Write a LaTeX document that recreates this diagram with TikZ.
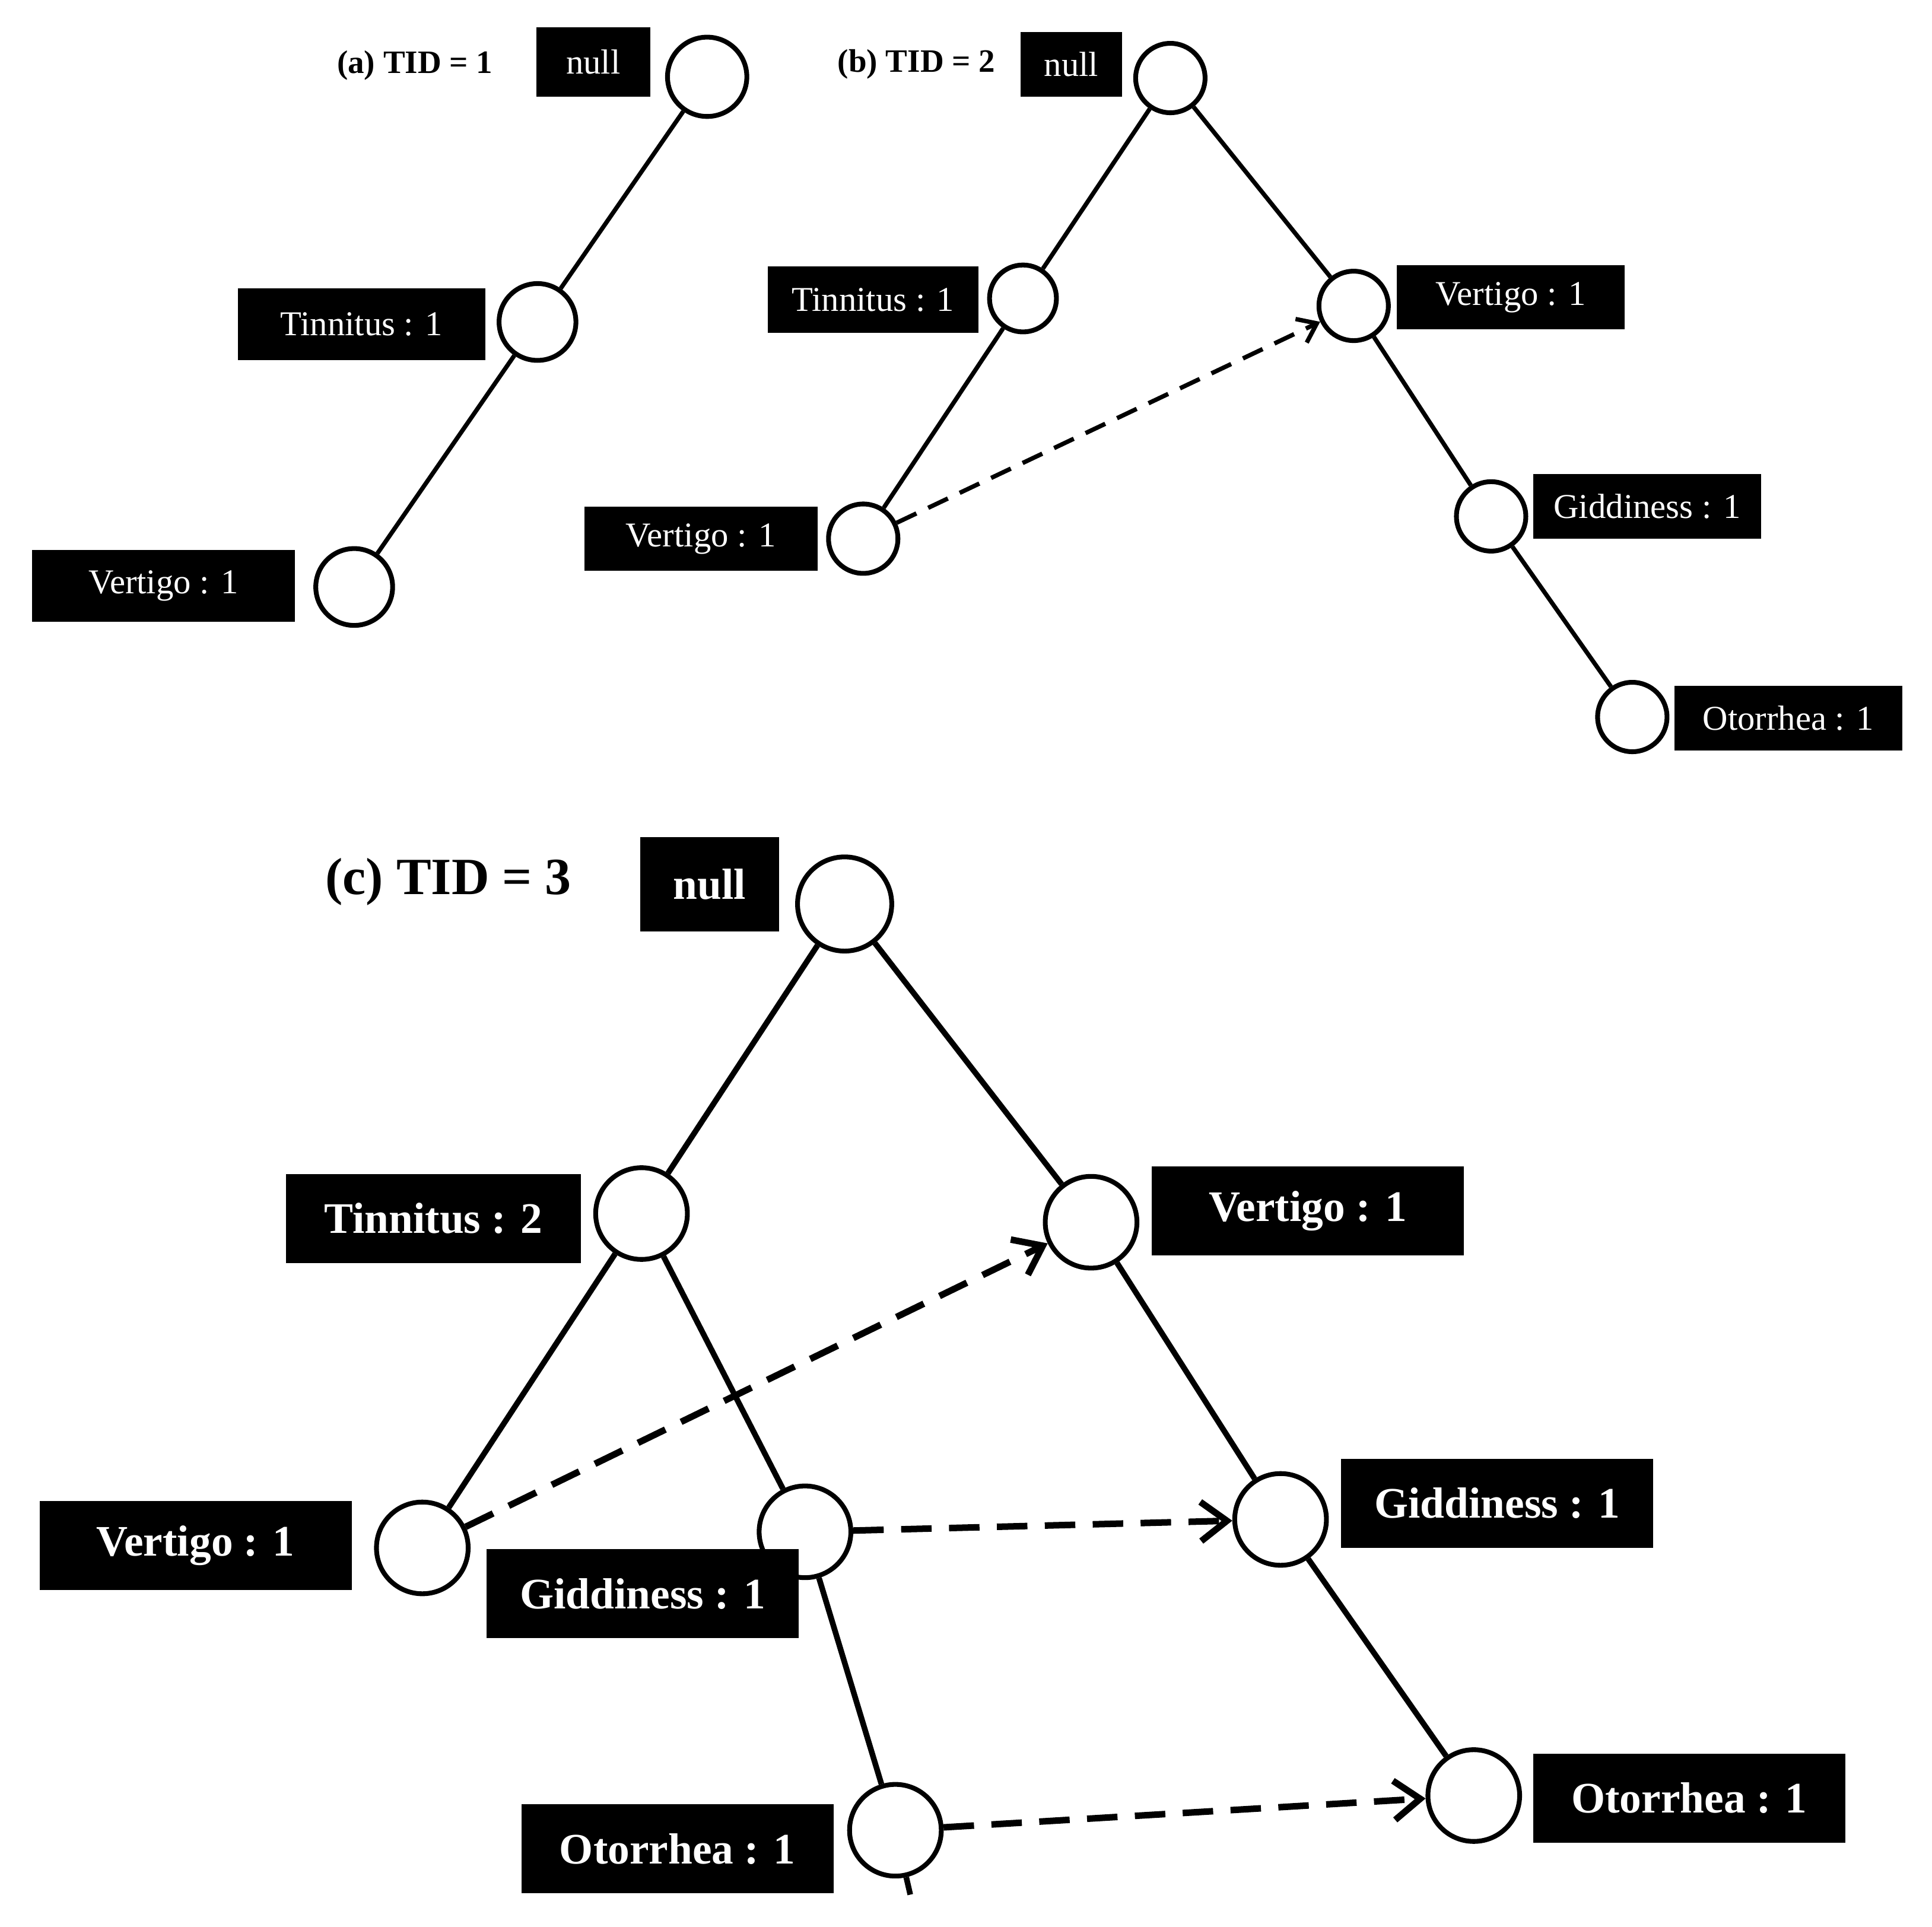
\documentclass[tikz,border=0pt]{standalone}
\usepackage{fontspec}
\setmainfont{Liberation Serif}
\usetikzlibrary{arrows.meta}
\begin{document}
\begin{tikzpicture}[x=0.01cm,y=-0.01cm,
 sz/.style 2 args={minimum width=#1*0.01cm,minimum height=#2*0.01cm},
 bx/.style={fill=black,text=white,inner sep=0pt,font=\fontsize{8}{9}\selectfont},
 bxc/.style={fill=black,text=white,inner sep=0pt,font=\fontsize{10}{11}\selectfont\bfseries},
 cs/.style={circle,draw,line width=1.1pt,minimum size=#1*0.02cm,inner sep=0pt},
 ed/.style={line width=1pt},
 ec/.style={line width=1.3pt},
 da/.style={line width=1pt,dash pattern=on 5pt off 3pt,-{Straight Barb[length=4pt,width=6pt]}},
 dc/.style={line width=1.5pt,dash pattern=on 7pt off 4pt,-{Straight Barb[length=6pt,width=9pt]}}]
\useasboundingbox (0,0) rectangle (1560,1556);
% (a)
\node[font=\fontsize{7.5}{9}\selectfont\bfseries] (la) at (335,53) {(a) TID = 1};
\node[bx,sz={92}{56}] (an) at (479,50) {null};
\node[cs=32] (ar) at (571,62) {};
\node[cs=31] (at) at (434,260) {};
\node[bx,sz={200}{58}] (atl) at (292,262) {Tinnitus : 1};
\node[cs=31] (av) at (286,474) {};
\node[bx,sz={212}{58}] (avl) at (132,473) {Vertigo : 1};
\draw[ed] (ar)--(at) (at)--(av);
% (b)
\node[font=\fontsize{7.5}{9}\selectfont\bfseries] (lb) at (740,52) {(b) TID = 2};
\node[bx,sz={82}{52}] (bn) at (865,52) {null};
\node[cs=28] (br) at (945,63) {};
\node[cs=27] (bt) at (826,241) {};
\node[bx,sz={170}{54}] (btl) at (705,242) {Tinnitus : 1};
\node[cs=28] (bv) at (1093,247) {};
\node[bx,sz={184}{52}] (bvl) at (1220,240) {Vertigo : 1};
\node[cs=28] (bvv) at (697,435) {};
\node[bx,sz={188}{52}] (bvvl) at (566,435) {Vertigo : 1};
\node[cs=28] (bg) at (1204,417) {};
\node[bx,sz={184}{52}] (bgl) at (1330,409) {Giddiness : 1};
\node[cs=28] (bo) at (1318,579) {};
\node[bx,sz={184}{52}] (bol) at (1444,580) {Otorrhea : 1};
\draw[ed] (br)--(bt) (bt)--(bvv) (br)--(bv) (bv)--(bg) (bg)--(bo);
\draw[da] (bvv)--(bv);
% (c)
\node[font=\fontsize{12}{14}\selectfont\bfseries] (lc) at (362,712) {(c) TID = 3};
\node[bxc,sz={112}{76}] (cn) at (573,714) {null};
\node[cs=38] (cr) at (682,730) {};
\node[cs=37] (ct) at (518,980) {};
\node[bxc,sz={238}{72}] (ctl) at (350,984) {Tinnitus : 2};
\node[cs=37] (cv) at (881,987) {};
\node[bxc,sz={252}{72}] (cvl) at (1056,978) {Vertigo : 1};
\node[cs=37] (cvv) at (341,1250) {};
\node[bxc,sz={252}{72}] (cvvl) at (158,1248) {Vertigo : 1};
\node[cs=37] (cgm) at (650,1237) {};
\node[bxc,sz={252}{72}] (cgml) at (519,1287) {Giddiness : 1};
\node[cs=37] (cgr) at (1034,1227) {};
\node[bxc,sz={252}{72}] (cgrl) at (1209,1214) {Giddiness : 1};
\node[cs=37] (col) at (723,1478) {};
\node[bxc,sz={252}{72}] (coll) at (547,1493) {Otorrhea : 1};
\node[cs=37] (cor) at (1190,1450) {};
\node[bxc,sz={252}{72}] (corl) at (1364,1452) {Otorrhea : 1};
\coordinate (tail) at (735,1530);
\draw[ec] (cr)--(ct) (cr)--(cv) (ct)--(cvv) (ct)--(cgm) (cgm)--(col) (col)--(tail) (cv)--(cgr) (cgr)--(cor);
\draw[dc] (cvv)--(cv);
\draw[dc] (cgm)--(cgr);
\draw[dc] (col)--(cor);
\end{tikzpicture}
\end{document}
